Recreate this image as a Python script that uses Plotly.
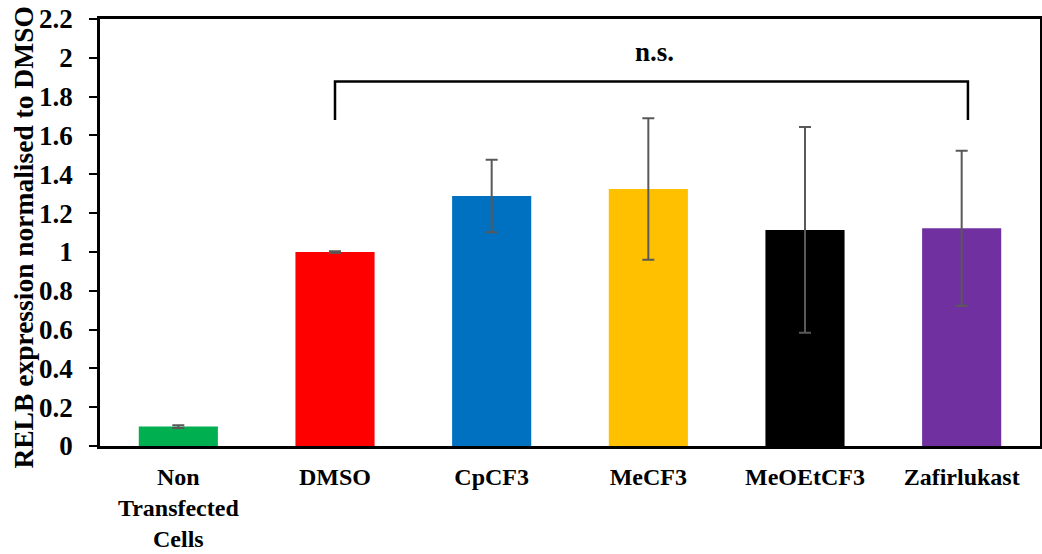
import plotly.graph_objects as go

categories = ["Non<br>Transfected<br>Cells", "DMSO", "CpCF3", "MeCF3", "MeOEtCF3", "Zafirlukast"]
values = [0.10, 1.00, 1.288, 1.324, 1.113, 1.122]
errors = [0.007, 0.004, 0.187, 0.364, 0.530, 0.399]
colors = ["#00B050", "#FF0000", "#0070C0", "#FFC000", "#000000", "#7030A0"]
y_ticks = [0, 0.2, 0.4, 0.6, 0.8, 1, 1.2, 1.4, 1.6, 1.8, 2, 2.2]
y_tick_text = ["0", "0.2", "0.4", "0.6", "0.8", "1", "1.2", "1.4", "1.6", "1.8", "2", "2.2"]
y_title = "RELB expression normalised to DMSO"

bracket_x = [1, 5.04]
bracket_y_low = 1.68
bracket_y_high = 1.878
sig_label = "n.s."
sig_x = 3.04
sig_y = 2.03

FONT = "Liberation Serif, Times New Roman, serif"

fig = go.Figure()
fig.add_trace(go.Bar(
    x=categories, y=values,
    marker=dict(color=colors, line=dict(width=0)),
    error_y=dict(type="data", array=errors, visible=True, color="#595959", thickness=2, width=6),
    width=0.505,
))

fig.add_shape(type="path", xref="x", yref="y",
              path=f"M {bracket_x[0]},{bracket_y_low} L {bracket_x[0]},{bracket_y_high} "
                   f"L {bracket_x[1]},{bracket_y_high} L {bracket_x[1]},{bracket_y_low}",
              line=dict(color="black", width=2.5))
fig.add_annotation(x=sig_x, y=sig_y, xref="x", yref="y",
                   text=f"<b>{sig_label}</b>", showarrow=False,
                   font=dict(family=FONT, size=27, color="black"), yanchor="middle")

# y-axis title as rotated annotation for exact placement
fig.add_annotation(x=-0.0809, y=0.488, xref="paper", yref="paper",
                   text=f"<b>{y_title}</b>", textangle=-90, showarrow=False,
                   xanchor="center", yanchor="middle",
                   font=dict(family=FONT, size=27.5, color="black"))

fig.update_layout(
    width=1042, height=554,
    margin=dict(l=100, r=2, t=19, b=108, autoexpand=False),
    plot_bgcolor="white", paper_bgcolor="white",
    showlegend=False,
    font=dict(family=FONT, color="black"),
)
fig.update_xaxes(
    showline=True, linecolor="black", linewidth=2.5, mirror=True,
    ticks="outside", ticklen=7, tickcolor="rgba(0,0,0,0)",
    tickfont=dict(family=FONT, size=24, color="black"),
    tickprefix="<b>", ticksuffix="</b>",
    automargin=False,
)
fig.update_yaxes(
    range=[0, 2.2], tickvals=y_ticks, ticktext=[f"<b>{t}</b>" for t in y_tick_text],
    showline=True, linecolor="black", linewidth=2.5, mirror=True,
    ticks="outside", ticklen=8, tickwidth=2, tickcolor="black",
    tickfont=dict(family=FONT, size=27, color="black"),
    ticklabelstandoff=11,
    ticklabeloverflow="allow", automargin=False,
    showgrid=False, zeroline=False,
)

fig.write_html("out.html", config={"displayModeBar": False},
               post_script="document.body.style.margin='0';document.body.style.overflow='hidden';")
